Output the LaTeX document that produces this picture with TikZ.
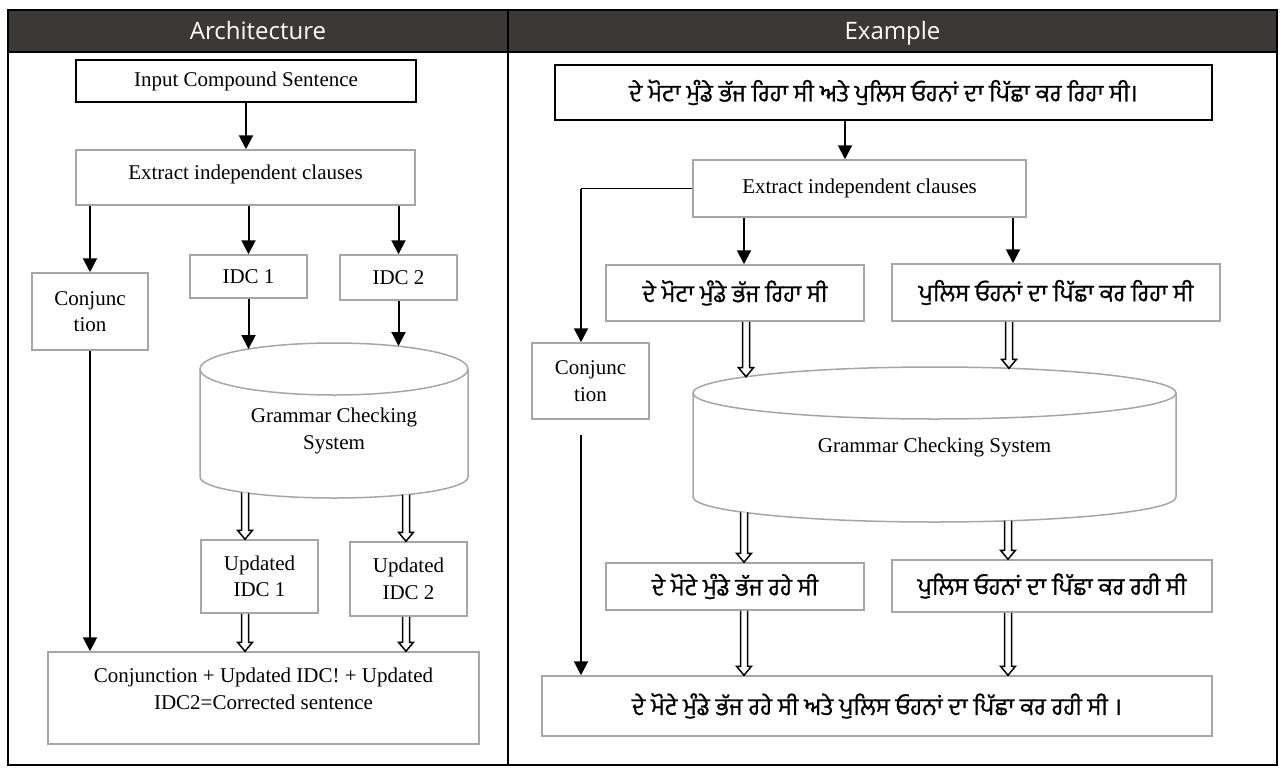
\documentclass[tikz,border=0pt]{standalone}
\usepackage{fontspec}
\setmainfont{Liberation Serif}
\newfontfamily\hdrfont{Open Sans}
\newfontfamily\pafont[Script=Gurmukhi,FakeBold=0.6]{Hind Jalandhar}
\usetikzlibrary{arrows.meta,calc}
\definecolor{boxgray}{HTML}{A6A6A6}
\definecolor{hdrgray}{HTML}{3B3838}
\tikzset{
 gbox/.style={draw=boxgray, line width=1.5pt, fill=white, rectangle, inner sep=2pt, align=center, font=\fontsize{21}{26.5}\selectfont},
 kbox/.style={gbox, draw=black, line width=2pt},
 pa/.style={font=\pafont\fontsize{24}{28}\selectfont},
 arr/.style={line width=2pt, -{Triangle[length=14pt,width=14pt]}},
 thinline/.style={line width=1.3pt},
 hollow/.style={draw=black, line width=1.5pt, fill=white, line join=miter},
 txt/.style={align=center, font=\fontsize{21}{26.5}\selectfont, inner sep=0pt},
 cyl/.style={draw=boxgray, line width=1.5pt, fill=white},
 hdr/.style={font=\hdrfont\fontsize{24}{28}\selectfont, text=white, inner sep=0pt, anchor=base},
}
\newcommand\harrow[2]{\draw[hollow] let \p1=(#1), \p2=(#2) in (\x1-3.5pt,\y1) -- (\x1-3.5pt,\y2+9pt) -- (\x1-7.5pt,\y2+9pt) -- (\x1,\y2) -- (\x1+7.5pt,\y2+9pt) -- (\x1+3.5pt,\y2+9pt) -- (\x1+3.5pt,\y1);}
\begin{document}
\begin{tikzpicture}[x=1pt,y=-1pt]
\useasboundingbox (0,0) rectangle (1283,774);
% frame and header
\fill[hdrgray] (8,10) rectangle (1277,52);
\draw[line width=2pt] (8,10) rectangle (1277,765);
\draw[line width=2pt] (8,52) -- (1277,52);
\draw[line width=2pt] (508,10) -- (508,765);
\node[hdr] (hA) at (258,39.5) {Architecture};
\node[hdr] (hE) at (892.5,39.5) {Example};

% ---------- left ----------
\node[kbox, minimum width=340, minimum height=42] (inL) at (246,81) {Input Compound Sentence};
\node[gbox, minimum width=339, minimum height=55] (exL) at (245.5,177.5) {};
\node[txt] (exLt) at (245.5,174) {Extract independent clauses};
\node[gbox, minimum width=116, minimum height=77] (conjL) at (90,311.5) {Conjunc\\tion};
\node[gbox, minimum width=117, minimum height=43] (idc1L) at (248.5,276.5) {IDC 1};
\node[gbox, minimum width=117, minimum height=45] (idc2L) at (398.5,277.5) {IDC 2};
\draw[cyl] (200,369) -- (200,477) arc[start angle=180,end angle=360,x radius=134pt,y radius=21pt] -- (468,369);
\draw[cyl] (334,369) ellipse [x radius=134pt, y radius=26pt];
\node[txt] (gcsL) at (334,431) {Grammar Checking\\System};
\node[gbox, minimum width=117, minimum height=73] (updL1) at (259.5,576.5) {Updated\\IDC 1};
\node[gbox, minimum width=117, minimum height=74] (updL2) at (408.5,579) {Updated\\IDC 2};
\node[gbox, minimum width=431, minimum height=92] (finL) at (263.5,698) {};
\node[txt] (finLt) at (263.5,689) {Conjunction + Updated IDC! + Updated\\IDC2=Corrected sentence};

\coordinate (gL1) at (248.5,349);
\coordinate (gL2) at (398.5,346);
\coordinate (hL1) at (245,492.7);
\coordinate (hL2) at (406,494.7);

\draw[arr] (inL.south) -- (exL.north -| inL.south);
\draw[arr] (conjL.north |- exL.south) -- (conjL.north);
\draw[arr] (idc1L.north |- exL.south) -- (idc1L.north);
\draw[arr] (idc2L.north |- exL.south) -- (idc2L.north);
\draw[arr] (idc1L.south) -- (gL1);
\draw[arr] (idc2L.south) -- (gL2);
\draw[arr] (conjL.south) -- (conjL.south |- finL.north);
\harrow{hL1}{updL1.north -| hL1}
\harrow{hL2}{updL2.north -| hL2}
\harrow{updL1.south -| hL1}{finL.north -| hL1}
\harrow{updL2.south -| hL2}{finL.north -| hL2}

% ---------- right ----------
\node[kbox, pa, minimum width=657, minimum height=55] (topR) at (883.5,92.5) {ਦੇ ਮੋਟਾ ਮੁੰਡੇ ਭੱਜ ਰਿਹਾ ਸੀ ਅਤੇ ਪੁਲਿਸ ਓਹਨਾਂ ਦਾ ਪਿੱਛਾ ਕਰ ਰਿਹਾ ਸੀ।};
\node[gbox, minimum width=333, minimum height=57] (exR) at (859.5,188.5) {Extract independent clauses};
\node[gbox, pa, minimum width=258, minimum height=56] (c1R) at (735,293) {ਦੇ ਮੋਟਾ ਮੁੰਡੇ ਭੱਜ ਰਿਹਾ ਸੀ};
\node[gbox, pa, minimum width=328, minimum height=57] (c2R) at (1056,292.5) {ਪੁਲਿਸ ਓਹਨਾਂ ਦਾ ਪਿੱਛਾ ਕਰ ਰਿਹਾ ਸੀ};
\node[gbox, minimum width=117, minimum height=76] (conjR) at (590.5,381) {Conjunc\\tion};
\draw[cyl] (693,393) -- (693,497) arc[start angle=180,end angle=360,x radius=241.5pt,y radius=25pt] -- (1176,393);
\draw[cyl] (934.5,393) ellipse [x radius=241.5pt, y radius=26pt];
\node[txt] (gcsR) at (934.5,447) {Grammar Checking System};
\node[gbox, pa, minimum width=258, minimum height=47] (u1R) at (735,586.5) {ਦੇ ਮੋਟੇ ਮੁੰਡੇ ਭੱਜ ਰਹੇ ਸੀ};
\node[gbox, pa, minimum width=320, minimum height=52] (u2R) at (1052,586) {ਪੁਲਿਸ ਓਹਨਾਂ ਦਾ ਪਿੱਛਾ ਕਰ ਰਹੀ ਸੀ};
\node[gbox, pa, minimum width=670, minimum height=60] (finR) at (877,706) {ਦੇ ਮੋਟੇ ਮੁੰਡੇ ਭੱਜ ਰਹੇ ਸੀ ਅਤੇ ਪੁਲਿਸ ਓਹਨਾਂ ਦਾ ਪਿੱਛਾ ਕਰ ਰਹੀ ਸੀ ।};

\coordinate (xT) at (845,0);
\coordinate (xC) at (581,0);
\coordinate (xa) at (744,0);
\coordinate (xb) at (1013,0);
\coordinate (gR1) at (746,376.7);
\coordinate (gR2) at (1009,368.3);
\coordinate (hR1) at (744,512.4);
\coordinate (hR2) at (1008,520.8);
\coordinate (cjs) at (581,435);

\draw[arr] (topR.south -| xT) -- (exR.north -| xT);
\draw[thinline] (exR.west) -- (exR.west -| xC);
\draw[arr] (exR.west -| xC) -- (conjR.north -| xC);
\draw[arr] (exR.south -| xa) -- (c1R.north -| xa);
\draw[arr] (exR.south -| xb) -- (c2R.north -| xb);
\harrow{c1R.south -| gR1}{gR1}
\harrow{c2R.south -| gR2}{gR2}
\harrow{hR1}{u1R.north -| hR1}
\harrow{hR2}{u2R.north -| hR2}
\harrow{u1R.south -| hR1}{finR.north -| hR1}
\harrow{u2R.south -| hR2}{finR.north -| hR2}
\draw[arr] (cjs) -- (finR.north -| cjs);
\end{tikzpicture}
\end{document}
